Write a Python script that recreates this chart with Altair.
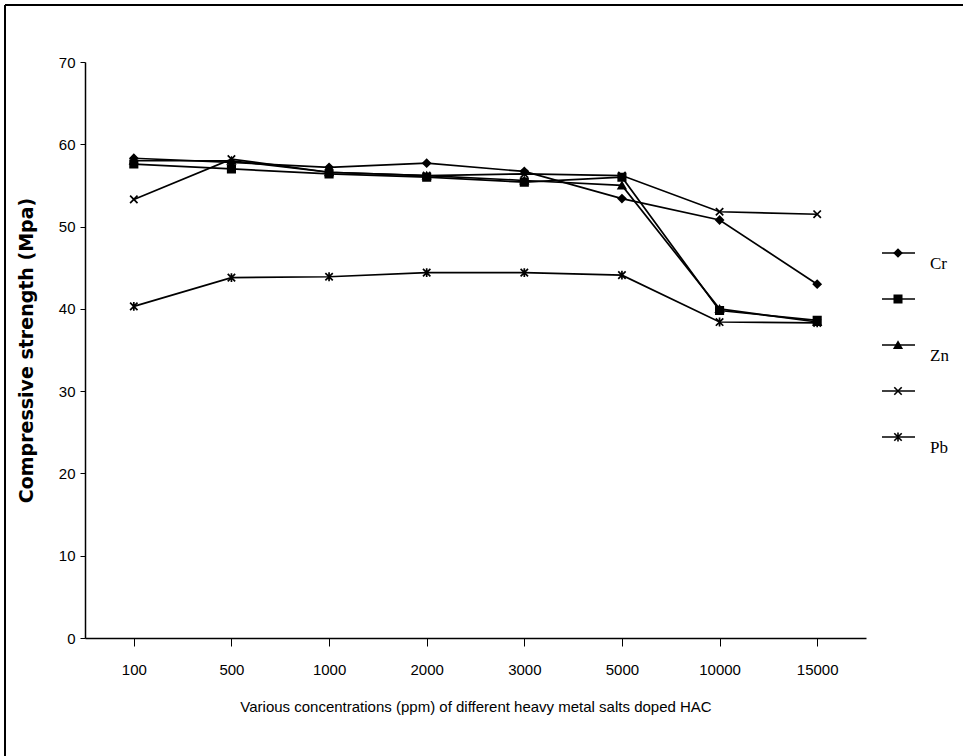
import altair as alt
import pandas as pd

concentrations = ["100", "500", "1000", "2000", "3000", "5000", "10000", "15000"]
series_names = ["Cr", " ", "Zn", "  ", "Pb"]

cr_values = [58.3, 57.8, 57.2, 57.7, 56.7, 53.4, 50.8, 43.0]
s2_values = [57.6, 57.0, 56.4, 56.0, 55.4, 56.0, 39.8, 38.6]
zn_values = [58.0, 58.0, 56.6, 56.2, 55.6, 55.0, 40.0, 38.4]
s4_values = [53.3, 58.2, 56.6, 56.2, 56.4, 56.2, 51.8, 51.5]
pb_values = [40.3, 43.8, 43.9, 44.4, 44.4, 44.1, 38.4, 38.3]

all_values = [cr_values, s2_values, zn_values, s4_values, pb_values]

rows = []
for name, vals in zip(series_names, all_values):
    for c, v in zip(concentrations, vals):
        rows.append({"conc": c, "series": name, "value": v})
df = pd.DataFrame(rows)
legend_df = pd.DataFrame({"series": series_names})

# marker shapes
X_PATH = "M-1,-1L1,1M-1,1L1,-1"
STAR_PATH = "M-1,-1L1,1M-1,1L1,-1M0,-1.2L0,1.2"
plot_shapes = ["diamond", "square", "triangle-up", X_PATH, STAR_PATH]

SANS = "Liberation Sans, Arial, sans-serif"

x_enc = alt.X(
    "conc:O",
    sort=concentrations,
    scale=alt.Scale(type="point", padding=0.5, domain=concentrations),
    axis=alt.Axis(
        title="Various concentrations (ppm) of different heavy metal salts doped HAC",
        labelAngle=0,
        labelFont=SANS,
        labelFontSize=15,
        labelColor="black",
        labelPadding=16,
        tickSize=8,
        tickColor="black",
        domainColor="black",
        domainWidth=1.5,
        titleFont=SANS,
        titleFontSize=15,
        titleFontWeight="normal",
        titleColor="black",
        titlePadding=22,
        grid=False,
    ),
)
y_enc = alt.Y(
    "value:Q",
    scale=alt.Scale(domain=[0, 70], nice=False, zero=True),
    axis=alt.Axis(
        title="Compressive strength (Mpa)",
        values=[0, 10, 20, 30, 40, 50, 60, 70],
        labelFont=SANS,
        labelFontSize=15,
        labelColor="black",
        labelPadding=5,
        tickSize=5,
        tickColor="black",
        domainColor="black",
        domainWidth=1.5,
        titleFont="DejaVu Sans, Verdana, sans-serif",
        titleFontSize=19,
        titleFontWeight="bold",
        titleColor="black",
        titlePadding=22,
        grid=False,
    ),
)

shape_enc = alt.Shape(
    "series:N",
    scale=alt.Scale(domain=series_names, range=plot_shapes),
    legend=None,
)

base = alt.Chart(df)

lines = base.mark_line(color="black", strokeWidth=1.7).encode(
    x=x_enc, y=y_enc, detail="series:N"
)

points = base.mark_point(
    fill="black", stroke="black", strokeWidth=1.7, opacity=1, size=55
).encode(x=x_enc, y=y_enc, shape=shape_enc)

main = alt.layer(lines, points)

# hand-made legend on the right (its own ordinal scale for the rows)
leg_y = alt.Y(
    "series:N",
    sort=series_names,
    scale=alt.Scale(type="point", domain=series_names, range=[191, 375], padding=0),
    axis=None,
)
leg_base = alt.Chart(legend_df)
leg_lines = leg_base.mark_rule(color="black", strokeWidth=1.5).encode(
    y=leg_y, x=alt.value(797), x2=alt.value(830)
)
leg_points = leg_base.mark_point(
    fill="black", stroke="black", strokeWidth=1.6, opacity=1, size=55
).encode(y=leg_y, x=alt.value(813), shape=shape_enc)
leg_text = leg_base.mark_text(
    align="left",
    baseline="middle",
    dy=11,
    font="Liberation Serif, Times New Roman, serif",
    fontSize=17,
    color="black",
).encode(y=leg_y, x=alt.value(845), text="series:N")
legend = alt.layer(leg_lines, leg_points, leg_text)

frame_data = alt.Data(values=[{"k": 1}])
frame_left = alt.Chart(frame_data).mark_rule(color="black", strokeWidth=2).encode(
    x=alt.value(-80), y=alt.value(-57), y2=alt.value(694)
)
frame_top = alt.Chart(frame_data).mark_rule(color="black", strokeWidth=2).encode(
    x=alt.value(-80), x2=alt.value(878), y=alt.value(-57)
)

chart = (
    alt.layer(main, legend, frame_left, frame_top)
    .resolve_scale(y="independent")
    .properties(
        width=781,
        height=576,
        autosize=alt.AutoSizeParams(type="none"),
        padding={"left": 85, "top": 62, "right": 97, "bottom": 118},
        background="white",
    )
    .configure_view(stroke=None)
)

chart.save("out.html", embed_options={"renderer": "svg", "actions": False})
